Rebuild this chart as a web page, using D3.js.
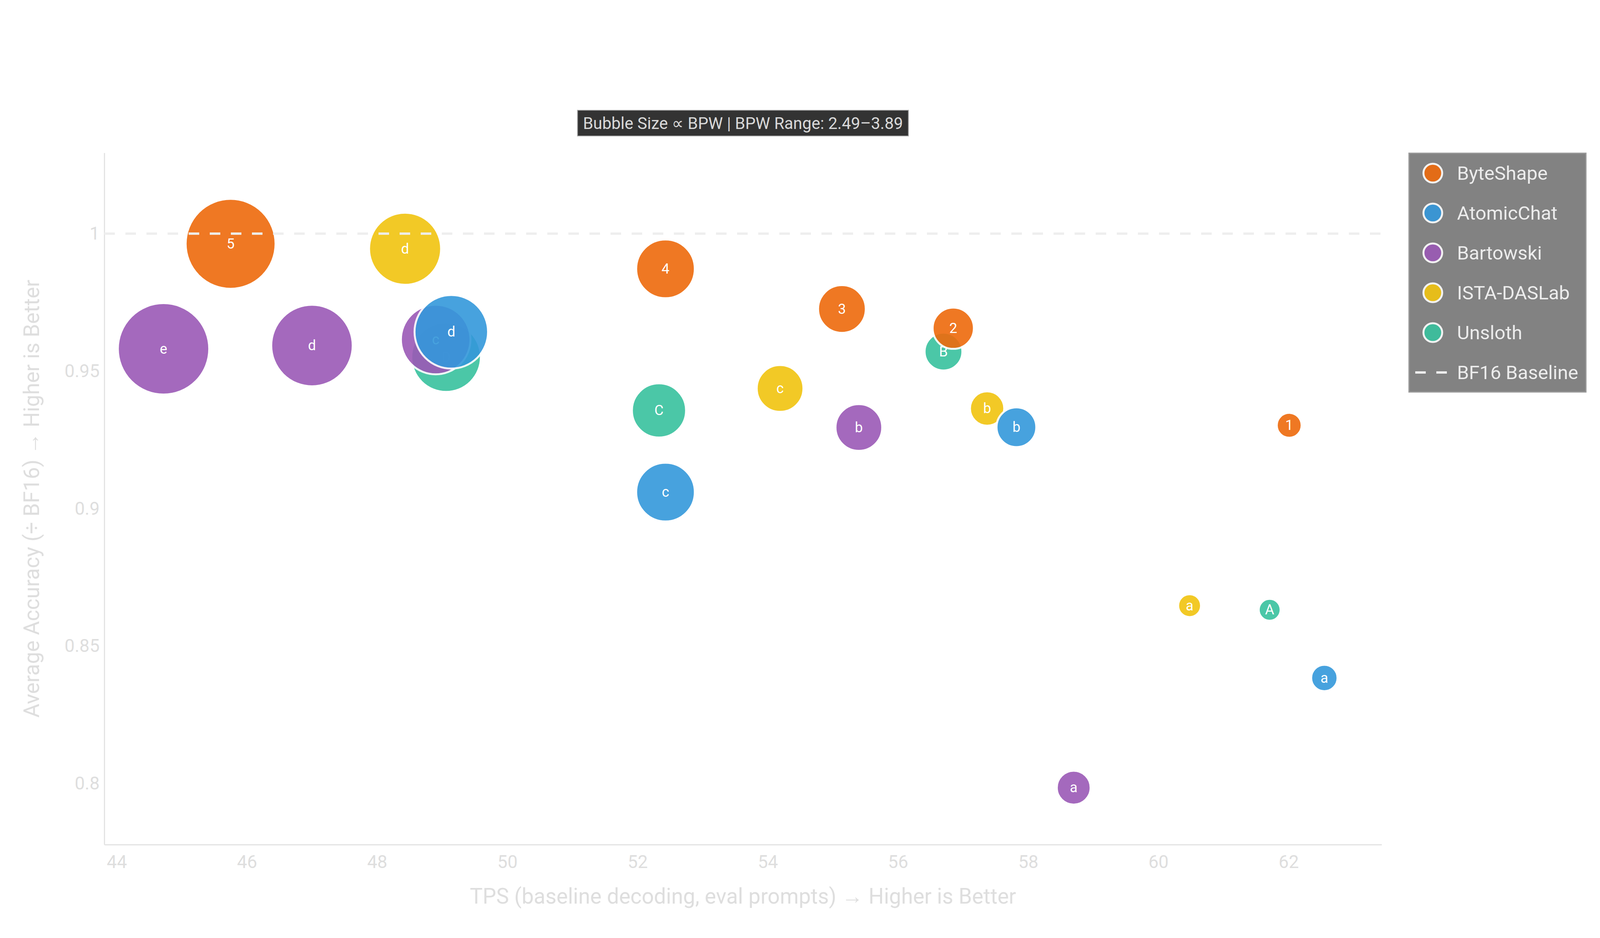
<!DOCTYPE html>
<html>
<head>
<meta charset="utf-8">
<script src="https://cdn.jsdelivr.net/npm/d3@7"></script>
<style>
    body { margin: 0; background: #ffffff; }
    svg { display: block; font-family: Roboto, "Open Sans", sans-serif; }
</style>
</head>
<body>
<div id="chart"></div>
<script>
// Data
const providers = ["ByteShape", "AtomicChat", "Bartowski", "ISTA-DASLab", "Unsloth"];

const byteShapeLabels = ["1", "2", "3", "4", "5"];
const byteShapeTps = [62.01, 56.85, 55.14, 52.43, 45.75];
const byteShapeAcc = [0.9303, 0.9656, 0.9726, 0.9872, 0.9963];
const byteShapeBpw = [2.55, 2.88, 3.01, 3.23, 3.86];

const atomicChatLabels = ["a", "b", "c", "d"];
const atomicChatTps = [62.55, 57.82, 52.43, 49.14];
const atomicChatAcc = [0.8384, 0.9296, 0.9060, 0.9643];
const atomicChatBpw = [2.58, 2.85, 3.23, 3.53];

const bartowskiLabels = ["a", "b", "c", "d", "e"];
const bartowskiTps = [58.70, 55.40, 48.90, 47.00, 44.72];
const bartowskiAcc = [0.7985, 0.9295, 0.9615, 0.9593, 0.9581];
const bartowskiBpw = [2.73, 2.99, 3.45, 3.69, 3.89];

const istaLabels = ["a", "b", "c", "d"];
const istaTps = [60.48, 57.37, 54.19, 48.43];
const istaAcc = [0.8647, 0.9364, 0.9437, 0.9945];
const istaBpw = [2.51, 2.74, 2.99, 3.50];

const unslothLabels = ["A", "B", "C", "D"];
const unslothTps = [61.71, 56.70, 52.33, 49.06];
const unslothAcc = [0.8632, 0.9571, 0.9357, 0.9551];
const unslothBpw = [2.49, 2.81, 3.14, 3.45];

const bpwRange = [2.49, 3.89];
const baselineAcc = 1;
const xDomain = [43.81, 63.43];
const yDomain = [0.7778, 1.0294];
const xTicks = [44, 46, 48, 50, 52, 54, 56, 58, 60, 62];
const yTicks = [0.8, 0.85, 0.9, 0.95, 1];

const colors = ["#ee6a0c", "#3498db", "#9b59b6", "#f1c40f", "#38c29e"];

// Build series table
const seriesRaw = [
    [byteShapeLabels, byteShapeTps, byteShapeAcc, byteShapeBpw],
    [atomicChatLabels, atomicChatTps, atomicChatAcc, atomicChatBpw],
    [bartowskiLabels, bartowskiTps, bartowskiAcc, bartowskiBpw],
    [istaLabels, istaTps, istaAcc, istaBpw],
    [unslothLabels, unslothTps, unslothAcc, unslothBpw]
];
const series = seriesRaw.map((s, i) => ({
    name: providers[i],
    color: colors[i],
    points: s[0].map((label, j) => ({ label: label, tps: s[1][j], acc: s[2][j], bpw: s[3][j] }))
}));

// Set up dimensions
const W = 4200, H = 2400;
const margin = { top: 391, right: 663, bottom: 239, left: 267 };

const svg = d3.select("#chart")
    .append("svg")
    .attr("width", W)
    .attr("height", H)
    .attr("viewBox", `0 0 ${W} ${H}`);

// Scales
const x = d3.scaleLinear().domain(xDomain).range([margin.left, W - margin.right]);
const y = d3.scaleLinear().domain(yDomain).range([H - margin.bottom, margin.top]);
const r = d3.scaleLinear().domain(bpwRange).range([28, 117]);

// Axes
const xAxis = svg.append("g")
    .attr("transform", `translate(0,${H - margin.bottom})`)
    .call(d3.axisBottom(x).tickValues(xTicks).tickSize(0).tickPadding(27).tickFormat(d => String(d)));
xAxis.attr("font-family", null).attr("font-size", 46);
xAxis.select(".domain").attr("stroke", "#e3e3e3").attr("stroke-width", 3);
xAxis.selectAll("text").attr("fill", "#dedede");

const yAxis = svg.append("g")
    .attr("transform", `translate(${margin.left},0)`)
    .call(d3.axisLeft(y).tickValues(yTicks).tickSize(0).tickPadding(12).tickFormat(d => String(d)));
yAxis.attr("font-family", null).attr("font-size", 46);
yAxis.select(".domain").attr("stroke", "#e3e3e3").attr("stroke-width", 3);
yAxis.selectAll("text").attr("fill", "#dedede");

// Axis labels
svg.append("text")
    .attr("x", (x.range()[0] + x.range()[1]) / 2)
    .attr("y", 2312)
    .attr("text-anchor", "middle")
    .attr("font-size", 55)
    .attr("fill", "#dedede")
    .text("TPS (baseline decoding, eval prompts) \u2192 Higher is Better");

svg.append("text")
    .attr("transform", `translate(100,${(y.range()[0] + y.range()[1]) / 2}) rotate(-90)`)
    .attr("text-anchor", "middle")
    .attr("font-size", 55)
    .attr("fill", "#dedede")
    .text("Average Accuracy (\u00f7 BF16) \u2192 Higher is Better");

// Bubbles, last provider drawn first so ByteShape sits on top
series.slice().reverse().forEach(s => {
    const g = svg.append("g");
    g.selectAll("circle")
        .data(s.points)
        .enter()
        .append("circle")
        .attr("cx", d => x(d.tps))
        .attr("cy", d => y(d.acc))
        .attr("r", d => r(d.bpw))
        .attr("fill", s.color)
        .attr("stroke", "#ffffff")
        .attr("stroke-width", 5)
        .attr("opacity", 0.9);
    g.selectAll("text")
        .data(s.points)
        .enter()
        .append("text")
        .attr("x", d => x(d.tps))
        .attr("y", d => y(d.acc))
        .attr("text-anchor", "middle")
        .attr("dominant-baseline", "central")
        .attr("font-size", 36)
        .attr("fill", "#ffffff")
        .text(d => d.label);
});

// BF16 baseline
svg.append("line")
    .attr("x1", x.range()[0])
    .attr("x2", x.range()[1])
    .attr("y1", y(baselineAcc))
    .attr("y2", y(baselineAcc))
    .attr("stroke", "#eeeeee")
    .attr("stroke-width", 6)
    .attr("stroke-dasharray", "27,27");

// Title box
const titleG = svg.append("g");
const titleText = titleG.append("text")
    .attr("x", (x.range()[0] + x.range()[1]) / 2)
    .attr("y", 315)
    .attr("text-anchor", "middle")
    .attr("dominant-baseline", "central")
    .attr("font-size", 42)
    .attr("fill", "#d9d9d9")
    .text("Bubble Size \u221d BPW | BPW Range: 2.49\u20133.89");
const tb = titleText.node().getBBox();
titleG.insert("rect", "text")
    .attr("x", tb.x - 14)
    .attr("y", 282)
    .attr("width", tb.width + 28)
    .attr("height", 66)
    .attr("fill", "#333333")
    .attr("stroke", "#aaaaaa")
    .attr("stroke-width", 2);

// Legend
const legend = svg.append("g");
legend.append("rect")
    .attr("x", 3607)
    .attr("y", 392)
    .attr("width", 453)
    .attr("height", 611)
    .attr("fill", "#828282")
    .attr("stroke", "#999999")
    .attr("stroke-width", 3);

const rowY = i => 443 + i * 102;

series.forEach((s, i) => {
    legend.append("circle")
        .attr("cx", 3668)
        .attr("cy", rowY(i))
        .attr("r", 24)
        .attr("fill", s.color)
        .attr("stroke", "#ffffff")
        .attr("stroke-width", 5)
        .attr("opacity", 0.9);
    legend.append("text")
        .attr("x", 3730)
        .attr("y", rowY(i))
        .attr("dominant-baseline", "central")
        .attr("font-size", 49)
        .attr("fill", "#ececec")
        .text(s.name);
});

legend.append("line")
    .attr("x1", 3623)
    .attr("x2", 3704)
    .attr("y1", rowY(5))
    .attr("y2", rowY(5))
    .attr("stroke", "#eeeeee")
    .attr("stroke-width", 6)
    .attr("stroke-dasharray", "27,27");
legend.append("text")
    .attr("x", 3730)
    .attr("y", rowY(5))
    .attr("dominant-baseline", "central")
    .attr("font-size", 49)
    .attr("fill", "#ececec")
    .text("BF16 Baseline");
</script>
</body>
</html>
